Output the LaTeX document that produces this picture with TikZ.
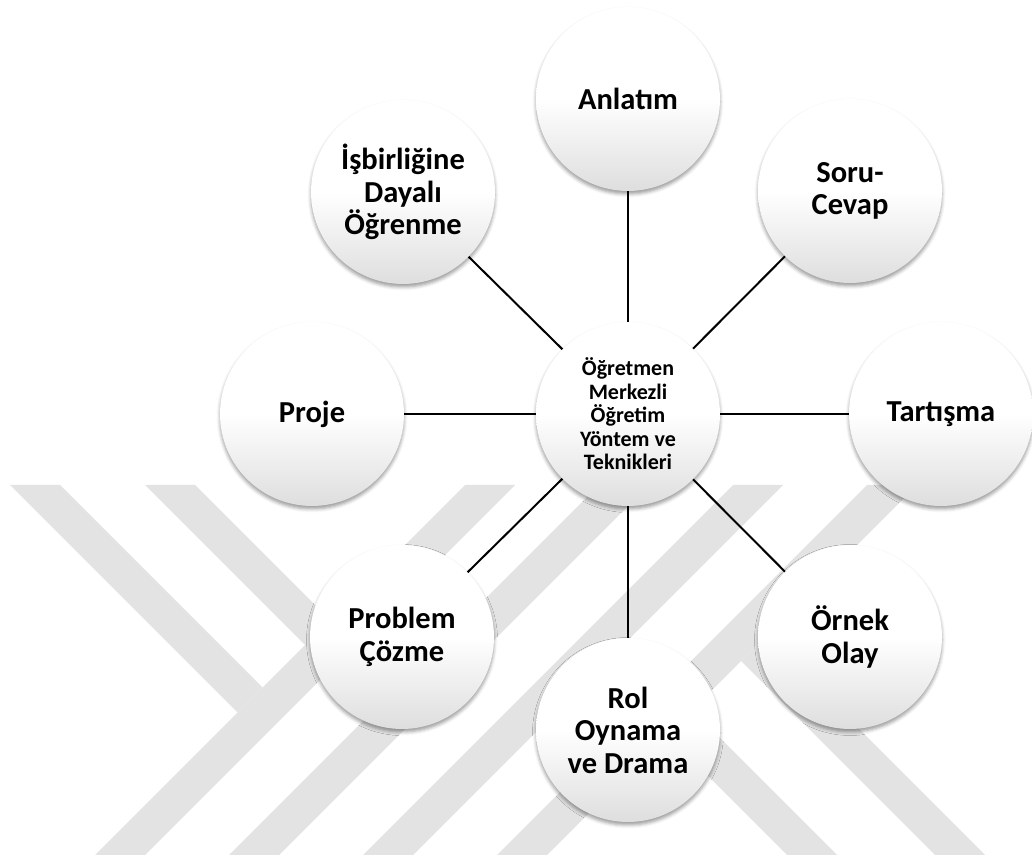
\documentclass[tikz,border=0pt]{standalone}
\usepackage{fontspec}
\setmainfont{Carlito}
\usetikzlibrary{shadows.blur}
\definecolor{filigran}{RGB}{227,227,227}
\begin{document}
\begin{tikzpicture}[x=1pt,y=1pt,
	yontem/.style={circle, minimum size=184pt, inner sep=0pt, align=center,
		top color=white, bottom color=black!13, middle color=white,
		blur shadow={shadow xshift=0pt, shadow yshift=-3pt, shadow blur radius=3.5pt, shadow opacity=40},
		font=\fontsize{30.5}{32.5}\selectfont\bfseries},
	merkezdaire/.style={yontem, font=\fontsize{22}{23.5}\selectfont\bfseries},
	baglanti/.style={line width=2pt}]
	\useasboundingbox (0,0) rectangle (1032,858);
	
	% Background watermark stripes
	\foreach \a in {950,1084,1218,1352}
		\fill[filigran] ({\a-855},3) -- ({\a-805},3) -- ({\a-435},373) -- ({\a-485},373) -- cycle;
	\fill[filigran] (10,373) -- (60,373) -- (262.5,170.5) -- (237.5,145.5) -- cycle;
	\fill[filigran] (145,373) -- (195,373) -- (397,171) -- (372,146) -- cycle;
	\fill[filigran] (600,190) -- (625,215) -- (837,3) -- (787,3) -- cycle;
	\fill[filigran] (741,197) -- (766,222) -- (985,3) -- (935,3) -- cycle;
	
	% Central node
	\node[merkezdaire] (merkez) at (628,444) {Öğretmen\\Merkezli\\Öğretim\\Yöntem ve\\Teknikleri};
	
	% Methods around the centre
	\node[yontem] (anlatim) at (628,759) {Anlatım};
	\node[yontem] (soru) at (850,667) {Soru-\\Cevap};
	\node[yontem] (tartisma) at (941,444) {Tartışma};
	\node[yontem] (ornek) at (850,221) {Örnek\\Olay};
	\node[yontem] (rol) at (628,128) {Rol\\Oynama\\ve Drama};
	\node[yontem] (problem) at (402,221) {Problem\\Çözme};
	\node[yontem] (proje) at (312,444) {Proje};
	\node[yontem] (isbirligi) at (403,666) {İşbirliğine\\Dayalı\\Öğrenme};
	
	% Connectors
	\draw[baglanti] (merkez) -- (anlatim);
	\draw[baglanti] (merkez) -- (soru);
	\draw[baglanti] (merkez) -- (tartisma);
	\draw[baglanti] (merkez) -- (ornek);
	\draw[baglanti] (merkez) -- (rol);
	\draw[baglanti] (merkez) -- (problem);
	\draw[baglanti] (merkez) -- (proje);
	\draw[baglanti] (merkez) -- (isbirligi);
	
\end{tikzpicture}
\end{document}
